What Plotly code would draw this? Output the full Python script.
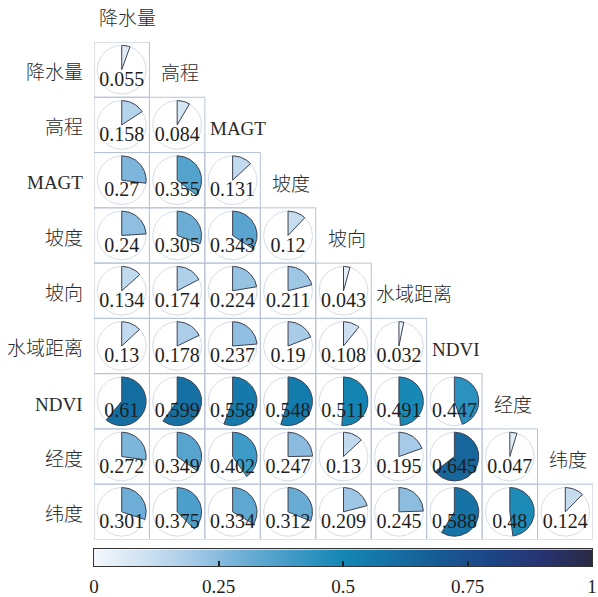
import numpy as np
import plotly.graph_objects as go
from plotly.colors import sample_colorscale

# Variables (rows / columns of the lower-triangular matrix)
variables = ["降水量", "高程", "MAGT", "坡度", "坡向", "水域距离", "NDVI", "经度", "纬度"]

# Lower-triangular values, one list per row (diagonal included)
row_precip = [0.055]
row_elev = [0.158, 0.084]
row_magt = [0.27, 0.355, 0.131]
row_slope = [0.24, 0.305, 0.343, 0.12]
row_aspect = [0.134, 0.174, 0.224, 0.211, 0.043]
row_water = [0.13, 0.178, 0.237, 0.19, 0.108, 0.032]
row_ndvi = [0.61, 0.599, 0.558, 0.548, 0.511, 0.491, 0.447]
row_lon = [0.272, 0.349, 0.402, 0.247, 0.13, 0.195, 0.645, 0.047]
row_lat = [0.301, 0.375, 0.334, 0.312, 0.209, 0.245, 0.588, 0.48, 0.124]
rows = [row_precip, row_elev, row_magt, row_slope, row_aspect,
        row_water, row_ndvi, row_lon, row_lat]

colorbar_ticks = [0, 0.25, 0.5, 0.75, 1]
colorbar_ticktext = ["0", "0.25", "0.5", "0.75", "1"]

colorscale = [
    [0.00, "#f3f8fc"],
    [0.10, "#cfe2f2"],
    [0.20, "#a4c9e7"],
    [0.30, "#6eaed6"],
    [0.40, "#3f9ac6"],
    [0.50, "#1487b5"],
    [0.60, "#1570a4"],
    [0.70, "#175891"],
    [0.80, "#1d4586"],
    [0.90, "#273372"],
    [1.00, "#2b2a44"],
]

n = len(variables)
W, H = 598, 597
M_L, M_R, M_T, M_B = 94, 2, 42, 0
PLOT_H = H - M_T - M_B
GRID_BOTTOM_PX = 544            # pixel row where the matrix ends
BAR_TOP_PX, BAR_BOTTOM_PX = 554, 571
BAR_RIGHT_PX = 595

R = 0.44            # pie radius in cell units
TEXT_DY = 0.2       # value label offset below cell centre
SERIF = "'Liberation Serif', 'Times New Roman', 'Noto Sans CJK SC', serif"
INK = "#1e1e1e"
LABEL_INK = "#2a2a2a"


def px_to_paper_y(py):
    return (H - M_B - py) / PLOT_H


fig = go.Figure()

# Cell borders
bx, by = [], []
for r in range(1, n + 1):
    for c in range(1, r + 1):
        bx += [c - 0.5, c + 0.5, c + 0.5, c - 0.5, c - 0.5, None]
        by += [r - 0.5, r - 0.5, r + 0.5, r + 0.5, r - 0.5, None]
fig.add_trace(go.Scatter(x=bx, y=by, mode="lines",
                         line=dict(color="#b7c3d6", width=1),
                         hoverinfo="skip", showlegend=False))

# Faint full-circle outlines
t = np.linspace(0, 2 * np.pi, 121)
cx, cy = [], []
for r in range(1, n + 1):
    for c in range(1, r + 1):
        cx += list(c + R * np.sin(t)) + [None]
        cy += list(r - R * np.cos(t)) + [None]
fig.add_trace(go.Scatter(x=cx, y=cy, mode="lines",
                         line=dict(color="#d3dcea", width=1),
                         hoverinfo="skip", showlegend=False))

# Pie wedges: start at 12 o'clock, sweep clockwise by the value
for r, vals in enumerate(rows, start=1):
    for c, v in enumerate(vals, start=1):
        ang = np.linspace(0, 2 * np.pi * v, max(3, int(v * 160) + 3))
        wx = [c] + list(c + R * np.sin(ang)) + [c]
        wy = [r] + list(r - R * np.cos(ang)) + [r]
        col = sample_colorscale(colorscale, [v])[0]
        fig.add_trace(go.Scatter(x=wx, y=wy, mode="lines", fill="toself",
                                 fillcolor=col,
                                 line=dict(color="#3e4250", width=1),
                                 hoverinfo="skip", showlegend=False))

# Value labels
tx, ty, tt = [], [], []
for r, vals in enumerate(rows, start=1):
    for c, v in enumerate(vals, start=1):
        tx.append(c)
        ty.append(r + TEXT_DY)
        tt.append(str(v))
fig.add_trace(go.Scatter(x=tx, y=ty, text=tt, mode="text",
                         textposition="middle center",
                         textfont=dict(family=SERIF, size=20, color=INK),
                         cliponaxis=False, hoverinfo="skip", showlegend=False))

# Colour bar: a one-row heatmap on its own pair of axes
grad = np.linspace(0, 1, 256)
fig.add_trace(go.Heatmap(x=grad, y=[0.5], z=[grad], colorscale=colorscale,
                         zmin=0, zmax=1, showscale=False, hoverinfo="skip",
                         xaxis="x2", yaxis="y2"))


label_font = dict(family=SERIF, size=19, color=LABEL_INK, weight=300)


def label_width(s, size=19):
    return sum(size if ord(ch) > 0x2E80 else 0.66 * size for ch in s)


annotations = []
# Row labels on the left
for r, name in enumerate(variables, start=1):
    annotations.append(dict(xref="paper", x=0, xanchor="right", xshift=-9,
                            yref="y", y=r + 0.05, yanchor="middle",
                            text=name, showarrow=False, font=label_font))

# Column labels just above each diagonal cell
cell_px = (W - M_L - M_R) / n
for c, name in enumerate(variables, start=1):
    w = label_width(name)
    if w > cell_px - 6:
        pos = dict(x=c - 0.5, xanchor="left", xshift=3)
    else:
        pos = dict(x=c, xanchor="center", xshift=3)
    annotations.append(dict(xref="x", yref="y domain",
                            y=(n + 0.5 - (c - 1 + 0.07)) / n,
                            yanchor="middle", text=name, showarrow=False,
                            font=label_font, **pos))

fig.update_layout(
    width=W, height=H,
    margin=dict(l=M_L, r=M_R, t=M_T, b=M_B),
    paper_bgcolor="white", plot_bgcolor="white",
    xaxis=dict(range=[0.5, n + 0.5], visible=False, fixedrange=True,
               domain=[0, 1]),
    yaxis=dict(range=[n + 0.5, 0.5], visible=False, fixedrange=True,
               domain=[px_to_paper_y(GRID_BOTTOM_PX), 1]),
    xaxis2=dict(domain=[0, (BAR_RIGHT_PX - M_L) / (W - M_L - M_R)],
                range=[0, 1], anchor="y2", fixedrange=True,
                showgrid=False, zeroline=False,
                showline=True, mirror=True, linecolor="#333333", linewidth=1,
                ticks="inside", ticklen=5, tickwidth=1.5, tickcolor="#222222",
                tickvals=colorbar_ticks, ticktext=colorbar_ticktext,
                ticklabeloverflow="allow", ticklabelstandoff=3,
                tickfont=dict(family=SERIF, size=19, color=INK)),
    yaxis2=dict(domain=[px_to_paper_y(BAR_BOTTOM_PX), px_to_paper_y(BAR_TOP_PX)],
                range=[0, 1], anchor="x2", fixedrange=True,
                showgrid=False, zeroline=False, showticklabels=False,
                ticks="", showline=True, mirror=True,
                linecolor="#333333", linewidth=1),
    annotations=annotations,
    showlegend=False,
)

fig.write_html("out.html")
